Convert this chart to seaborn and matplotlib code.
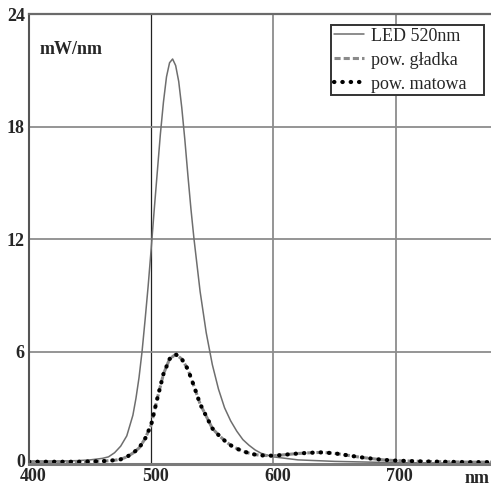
import numpy as np
import pandas as pd
import matplotlib
matplotlib.use("Agg")
import matplotlib.pyplot as plt
from matplotlib.transforms import ScaledTranslation
import seaborn as sns

# ---- data ----
wl_led = [400, 420, 440, 450, 460, 465, 470, 475, 480, 485, 487.5, 490, 492.5, 495, 497.5,
          500, 502.5, 505, 507.5, 510, 512.5, 515, 517.5, 520, 522.5, 525, 527.5, 530,
          532.5, 535, 540, 545, 550, 555, 560, 565, 570, 575, 580, 585, 590, 600, 620,
          650, 700, 780]
led_520 = [0.15, 0.15, 0.18, 0.22, 0.30, 0.38, 0.60, 0.95, 1.5, 2.6, 3.5, 4.6, 6.0, 7.7, 9.5,
           11.5, 13.6, 15.6, 17.6, 19.3, 20.65, 21.4, 21.6, 21.25, 20.4, 19.0, 17.3, 15.4,
           13.6, 12.0, 9.2, 7.0, 5.3, 4.0, 3.0, 2.3, 1.75, 1.3, 1.0, 0.75, 0.57, 0.38, 0.22,
           0.14, 0.07, 0.04]

wl_surf = [400, 420, 440, 460, 470, 475, 480, 485, 490, 495, 500, 505, 510, 515, 520,
           525, 530, 535, 540, 545, 550, 555, 560, 565, 570, 575, 580, 585, 590, 600,
           610, 620, 630, 640, 650, 660, 670, 680, 690, 700, 720, 740, 760, 780]
pow_gladka = [0.12, 0.12, 0.12, 0.15, 0.20, 0.25, 0.38, 0.58, 0.85, 1.35, 2.1, 3.5, 4.8, 5.6, 5.85,
              5.6, 5.05, 4.15, 3.2, 2.55, 1.9, 1.55, 1.25, 1.0, 0.82, 0.68, 0.58, 0.5, 0.46, 0.44,
              0.5, 0.56, 0.6, 0.62, 0.57, 0.47, 0.37, 0.29, 0.22, 0.18, 0.14, 0.12, 0.10, 0.10]
pow_matowa = [0.12, 0.12, 0.12, 0.15, 0.20, 0.25, 0.38, 0.58, 0.85, 1.35, 2.1, 3.5, 4.8, 5.6, 5.85,
              5.6, 5.05, 4.15, 3.2, 2.55, 1.9, 1.55, 1.25, 1.0, 0.82, 0.68, 0.58, 0.5, 0.46, 0.44,
              0.5, 0.56, 0.6, 0.62, 0.57, 0.47, 0.37, 0.29, 0.22, 0.18, 0.14, 0.12, 0.10, 0.10]

labels = ["LED 520nm", "pow. gładka", "pow. matowa"]
x_ticks = [400, 500, 600, 700]
y_ticks = [0, 6, 12, 18, 24]
y_unit = "mW/nm"
x_unit = "nm"

# ---- style ----
sns.set_style("white")
plt.rcParams["font.family"] = ["Liberation Serif", "DejaVu Serif"]

fig = plt.figure(figsize=(4.91, 4.86), dpi=100)
W, H = 491, 486
x0, y0, x1, y1 = 29, 464, 491, 14
ax = fig.add_axes([x0 / W, (H - y0) / H, (x1 - x0) / W, (y0 - y1) / H])

sns.lineplot(x=wl_led, y=led_520, ax=ax, color="#6e6e6e", lw=1.1, label=labels[0])
sns.lineplot(x=wl_surf, y=pow_gladka, ax=ax, color="#8a8a8a", lw=2.2,
             linestyle=(0, (2.0, 1.0)), label=labels[1])
sns.lineplot(x=wl_surf, y=pow_matowa, ax=ax, color="black", lw=3.0,
             linestyle=(0, (0.1, 1.9)), dash_capstyle="round", label=labels[2])

ax.set_xlim(400, 778)
ax.set_ylim(0, 24)
ax.set_xticks(x_ticks)
ax.set_yticks(y_ticks)
ax.set_xlabel("")
ax.set_ylabel("")

ax.tick_params(axis="both", length=0, labelsize=13)
ax.tick_params(axis="x", pad=3)
ax.tick_params(axis="y", pad=3)
for lab in ax.get_xticklabels() + ax.get_yticklabels():
    lab.set_fontweight("bold")
for lab in ax.get_xticklabels():
    lab.set_transform(lab.get_transform() + ScaledTranslation(4 / 100, 0, fig.dpi_scale_trans))
ylabs = ax.get_yticklabels()
ylabs[0].set_transform(ylabs[0].get_transform() + ScaledTranslation(0, 4 / 100, fig.dpi_scale_trans))

ax.grid(True, color="#8c8c8c", lw=1.3)
for i, line in enumerate(ax.xaxis.get_gridlines()):
    if x_ticks[i] == 500:
        line.set_color("#222222")
        line.set_linewidth(0.9)
    if x_ticks[i] == 400:
        line.set_visible(False)
for i, line in enumerate(ax.yaxis.get_gridlines()):
    if y_ticks[i] in (0, 24):
        line.set_visible(False)

for side in ["left", "top", "bottom"]:
    ax.spines[side].set_visible(True)
ax.spines["right"].set_visible(False)
ax.spines["left"].set_color("#555555")
ax.spines["left"].set_linewidth(1.5)
ax.spines["top"].set_color("#6a6a6a")
ax.spines["top"].set_linewidth(1.6)
ax.spines["bottom"].set_color("#7a7a7a")
ax.spines["bottom"].set_linewidth(2.2)

fig.text(40 / W, 1 - 50 / H, y_unit, fontsize=13, fontweight="bold",
         ha="left", va="center")
fig.text(477 / W, 1 - 478 / H, x_unit, fontsize=13, fontweight="bold",
         ha="center", va="center")

lx0 = (331 - x0) / (x1 - x0)
lx1 = (484 - x0) / (x1 - x0)
ltop = 1 - (25 - y1) / (y0 - y1)
leg = ax.legend(loc="upper left",
                bbox_to_anchor=(lx0, ltop - 0.2, lx1 - lx0, 0.2),
                mode="expand",
                borderaxespad=0, fontsize=13, frameon=True, fancybox=False,
                handlelength=1.65, handletextpad=0.4, labelspacing=0.39,
                borderpad=0.15)
leg.get_frame().set_edgecolor("#333333")
leg.get_frame().set_linewidth(1.4)
leg.get_frame().set_facecolor("white")
leg.get_frame().set_alpha(1)

fig.savefig("out.png", dpi=100)
